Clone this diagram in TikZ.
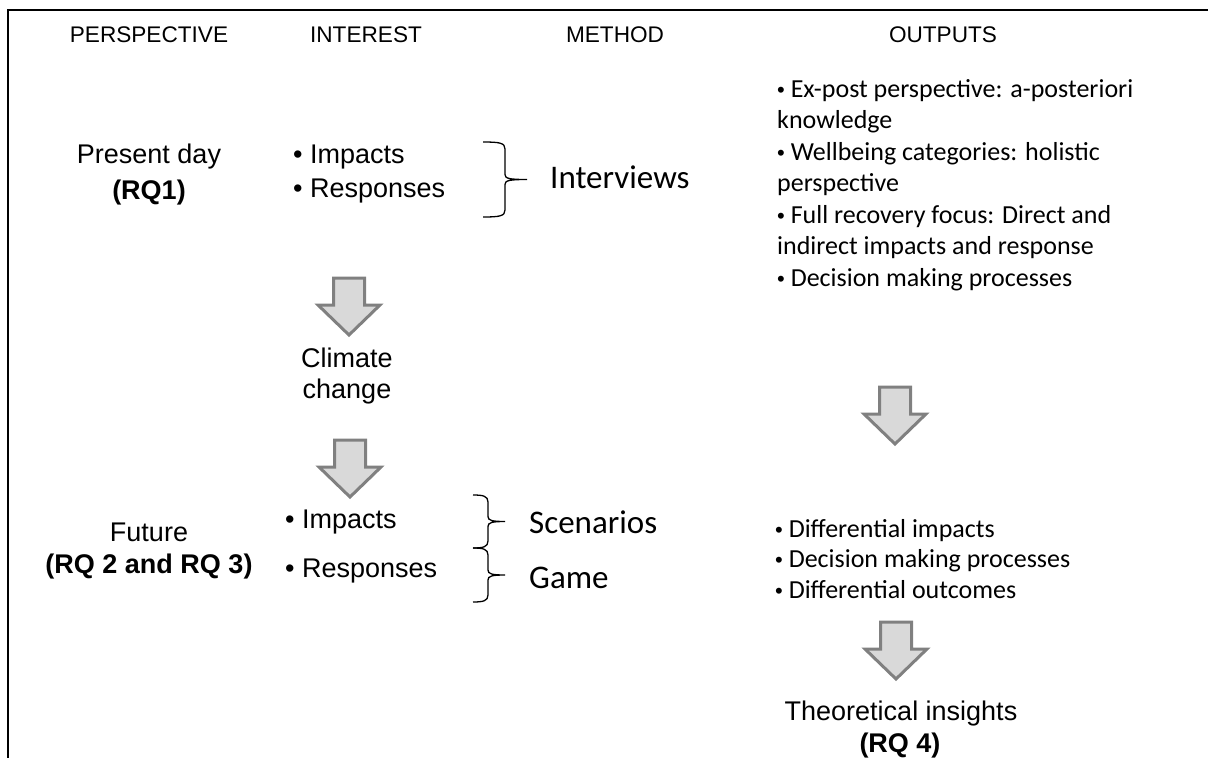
\documentclass[tikz,border=0pt]{standalone}
\usepackage{fontspec}
\setmainfont{Liberation Sans}
\newfontfamily\calibfont{Carlito}
\newfontfamily\bulletfont{Liberation Sans}
\definecolor{arrowfill}{HTML}{D9D9D9}
\definecolor{arrowline}{HTML}{808080}

% small round bullet used in the output lists
\newcommand\outbullet{{\bulletfont\fontsize{22}{22}\selectfont\textbullet}}

% right-facing curly brace: left ends at x0, spine at xv, tip at xt
\newcommand\methodbrace[5]{%
  \draw[bracestyle] (#1,#4) .. controls ({#2-5},#4) and (#2,{#4+1}) .. (#2,{#4+7})
    -- (#2,{(#4+#5)/2-5}) .. controls (#2,{(#4+#5)/2-1}) and ({#2+4},{(#4+#5)/2}) .. (#3,{(#4+#5)/2})
    .. controls ({#2+4},{(#4+#5)/2}) and (#2,{(#4+#5)/2+1}) .. (#2,{(#4+#5)/2+5})
    -- (#2,{#5-7}) .. controls (#2,{#5-1}) and ({#2-5},#5) .. (#1,#5);}

% grey block arrow pointing down: centre x, top y
\newcommand\blockdown[2]{%
  \draw[blockarrow] ({#1-15.5},#2) -- ({#1+15.5},#2) -- ({#1+15.5},{#2+27})
    -- ({#1+31},{#2+27}) -- (#1,{#2+57}) -- ({#1-31},{#2+27})
    -- ({#1-15.5},{#2+27}) -- cycle;}

\begin{document}
\begin{tikzpicture}[x=1pt,y=-1pt,
  header/.style={font=\fontsize{22.6}{27}\selectfont, anchor=base, inner sep=0},
  label/.style={font=\fontsize{27}{31}\selectfont, anchor=base, inner sep=0},
  labelbold/.style={font=\fontsize{27}{31}\selectfont\bfseries, anchor=base, inner sep=0},
  item/.style={font=\fontsize{27}{31}\selectfont, anchor=base west, inner sep=0},
  method/.style={font=\calibfont\fontsize{33}{38}\selectfont, anchor=base west, inner sep=0},
  outitem/.style={font=\calibfont\fontsize{26}{31}\selectfont, anchor=base west, inner sep=0},
  bracestyle/.style={draw=black, line width=1.3pt},
  blockarrow/.style={draw=arrowline, fill=arrowfill, line width=3pt, line join=miter},
  frame/.style={draw=black, line width=2.5pt}]
\useasboundingbox (0,0) rectangle (1208,758);

% frame
\draw[frame] (8,758) -- (8,10) -- (1208,10);

% column headers
\node[header] (hpersp) at (149,42) {PERSPECTIVE};
\node[header] (hinter) at (366,42) {INTEREST};
\node[header] (hmeth) at (615,42) {METHOD};
\node[header] (hout) at (943,42) {OUTPUTS};

% present day row
\node[label] (present) at (149,163) {Present day};
\node[labelbold] (rq1) at (149,199) {(RQ1)};
\node[item] (imp1) at (293,163) {\textbullet\ Impacts};
\node[item] (resp1) at (293,197) {\textbullet\ Responses};
\methodbrace{483}{505}{527}{142}{217}
\node[method] (interviews) at (550,188) {Interviews};

% climate change step
\blockdown{349}{278}
\node[label] (clim1) at (347,367) {Climate};
\node[label] (clim2) at (347,398) {change};
\blockdown{350}{440}

% future row
\node[label] (future) at (149,541) {Future};
\node[labelbold] (rq23) at (149,573) {(RQ 2 and RQ 3)};
\node[item] (imp2) at (285,528) {\textbullet\ Impacts};
\node[item] (resp2) at (285,577) {\textbullet\ Responses};
\methodbrace{473}{488}{505}{495}{548}
\methodbrace{473}{488}{505}{548}{602}
\node[method] (scen) at (529,533) {Scenarios};
\node[method] (game) at (529,588) {Game};

% outputs of the present-day study
\foreach \t [count=\i] in {%
  \outbullet\ Ex-post perspective: a-posteriori,
  knowledge,
  \outbullet\ Wellbeing categories: holistic,
  perspective,
  \outbullet\ Full recovery focus: Direct and,
  indirect impacts and response,
  \outbullet\ Decision making processes}
  \node[outitem] (outa\i) at (777,{97+31.5*(\i-1)}) {\t};

\blockdown{895}{387}

% outputs of the future study
\foreach \t [count=\i] in {%
  \outbullet\ Differential impacts,
  \outbullet\ Decision making processes,
  \outbullet\ Differential outcomes}
  \node[outitem] (outb\i) at (775,{537+30.5*(\i-1)}) {\t};

\blockdown{896}{622}

\node[label] (theory) at (901,720) {Theoretical insights};
\node[labelbold] (rq4) at (900,752) {(RQ 4)};
\end{tikzpicture}
\end{document}
